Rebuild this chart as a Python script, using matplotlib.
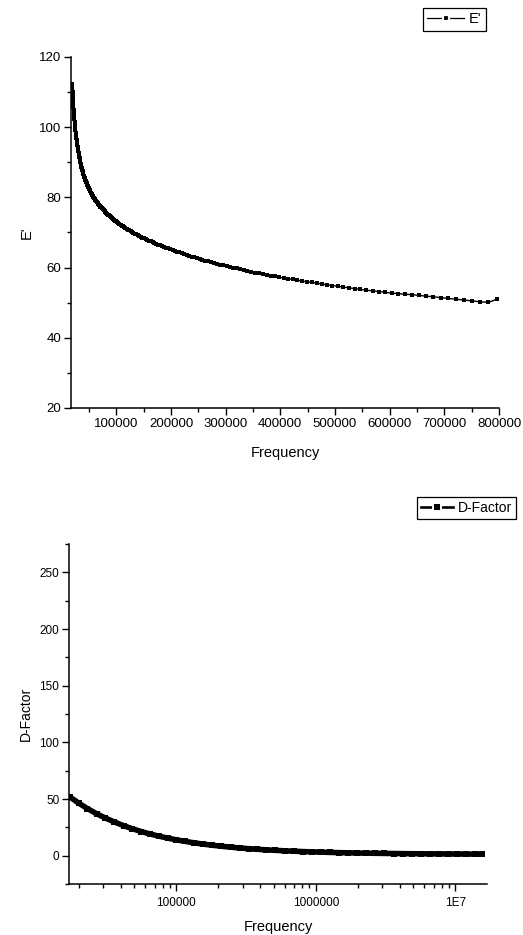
import matplotlib
matplotlib.use("Agg")
import matplotlib.pyplot as plt
from matplotlib.lines import Line2D
from matplotlib import ticker

plt.rcParams['font.family'] = ['Liberation Sans', 'DejaVu Sans']

# ---------------- data: E' vs frequency (top panel) ----------------
freq_e = [19240, 19625, 20017, 20418, 20826, 21243, 21667, 22101, 22543, 22994,
          23453, 23922, 24401, 24889, 25387, 25894, 26412, 26941, 27479, 28029,
          28590, 29161, 29745, 30340, 30946, 31565, 32197, 32841, 33497, 34167,
          34851, 35548, 36259, 36984, 37724, 38478, 39248, 40033, 40833, 41650,
          42483, 43333, 44200, 45084, 45985, 46905, 47843, 48800, 49776, 50771,
          51787, 52822, 53879, 54957, 56056, 57177, 58320, 59487, 60676, 61890,
          63128, 64390, 65678, 66992, 68332, 69698, 71092, 72514, 73964, 75444,
          76953, 78492, 80062, 81663, 83296, 84962, 86661, 88394, 90162, 91965,
          93805, 95681, 97594, 99546, 101537, 103568, 105639, 107752, 109907, 112105,
          114347, 116634, 118967, 121346, 123773, 126248, 128773, 131349, 133976, 136655,
          139388, 142176, 145020, 147920, 150878, 153896, 156974, 160113, 163315, 166582,
          169913, 173312, 176778, 180314, 183920, 187598, 191350, 195177, 199081, 203062,
          207124, 211266, 215491, 219801, 224197, 228681, 233255, 237920, 242678, 247532,
          252482, 257532, 262683, 267936, 273295, 278761, 284336, 290023, 295823, 301740,
          307774, 313930, 320208, 326612, 333145, 339808, 346604, 353536, 360607, 367819,
          375175, 382679, 390332, 398139, 406102, 414224, 422508, 430959, 439578, 448369,
          457337, 466483, 475813, 485329, 495036, 504936, 515035, 525336, 535842, 546559,
          557490, 568640, 580013, 591613, 603445, 615514, 627824, 640381, 653188, 666252,
          679577, 693168, 707032, 721172, 735596, 750308, 765314, 780620, 796232]
e_prime = [112.40, 111.22, 110.06, 108.96, 107.89, 106.87, 105.88, 104.93, 104.00, 103.11,
           102.25, 101.42, 100.61, 99.83, 99.07, 98.35, 97.64, 96.96, 96.29, 95.65,
           95.02, 94.42, 93.82, 93.25, 92.69, 92.15, 91.62, 91.11, 90.61, 90.12,
           89.64, 89.19, 88.73, 88.29, 87.85, 87.44, 87.02, 86.62, 86.22, 85.83,
           85.45, 85.08, 84.71, 84.36, 84.00, 83.66, 83.31, 82.98, 82.65, 82.33,
           82.00, 81.69, 81.38, 81.07, 80.77, 80.47, 80.17, 79.89, 79.59, 79.31,
           79.03, 78.75, 78.47, 78.21, 77.93, 77.67, 77.40, 77.14, 76.87, 76.62,
           76.36, 76.11, 75.85, 75.60, 75.35, 75.10, 74.85, 74.61, 74.36, 74.12,
           73.88, 73.64, 73.40, 73.16, 72.92, 72.69, 72.45, 72.22, 71.98, 71.75,
           71.52, 71.29, 71.06, 70.83, 70.60, 70.37, 70.14, 69.92, 69.69, 69.47,
           69.23, 69.01, 68.78, 68.56, 68.33, 68.11, 67.88, 67.67, 67.44, 67.22,
           66.99, 66.78, 66.55, 66.33, 66.11, 65.89, 65.67, 65.45, 65.23, 65.01,
           64.79, 64.57, 64.35, 64.13, 63.91, 63.53, 63.31, 63.10, 62.88, 62.67,
           62.45, 62.24, 62.02, 61.81, 61.59, 61.28, 61.06, 60.85, 60.63, 60.42,
           60.20, 59.99, 59.77, 59.56, 59.34, 59.08, 58.76, 58.55, 58.33, 58.12,
           57.90, 57.69, 57.47, 57.26, 57.04, 56.83, 56.61, 56.40, 56.18, 55.97,
           55.80, 55.54, 55.32, 55.11, 54.89, 54.68, 54.46, 54.25, 54.03, 53.82,
           53.55, 53.39, 53.17, 52.96, 52.74, 52.58, 52.41, 52.30, 52.08, 51.87,
           51.70, 51.44, 51.22, 51.01, 50.79, 50.53, 50.26, 50.10, 50.98]

# ---------------- data: D-Factor vs frequency (bottom panel) ----------------
freq_d = [17250, 20000, 23000, 27000, 31000, 36000, 42000, 48000, 56000, 65000,
          75000, 87000, 100000, 116000, 135000, 156000, 180000, 210000, 245000, 285000,
          330000, 380000, 440000, 510000, 600000, 700000, 810000, 940000, 1090000, 1270000,
          1470000, 1710000, 1990000, 2310000, 2680000, 3110000, 3610000, 4190000, 4870000,
          5650000, 6560000, 7620000, 8850000, 10270000, 11930000, 13850000, 15600000]
d_factor = [51.8, 46.3, 41.6, 36.8, 33.2, 29.7, 26.4, 23.9, 21.3, 19.1,
            17.2, 15.45, 13.97, 12.57, 11.29, 10.2, 9.24, 8.31, 7.50, 6.79,
            6.17, 5.64, 5.15, 4.71, 4.28, 3.92, 3.62, 3.34, 3.10, 2.87,
            2.68, 2.51, 2.35, 2.21, 2.09, 1.98, 1.89, 1.80, 1.72,
            1.65, 1.59, 1.54, 1.49, 1.45, 1.41, 1.37, 1.35]

top_xticks = [100000, 200000, 300000, 400000, 500000, 600000, 700000, 800000]
top_yticks = [20, 40, 60, 80, 100, 120]
bot_xticks = [1e5, 1e6, 1e7]
bot_xticklabels = ["100000", "1000000", "1E7"]
bot_yticks = [0, 50, 100, 150, 200, 250]

W, H = 523, 935
fig = plt.figure(figsize=(W / 100, H / 100), dpi=100)


def style_axes(ax):
    for s in ("top", "right"):
        ax.spines[s].set_visible(False)
    for s in ("left", "bottom"):
        ax.spines[s].set_linewidth(1.1)
    ax.tick_params(which="major", direction="out", length=5, width=1.0,
                   labelsize=9.5, pad=2, top=False, right=False)
    ax.tick_params(which="minor", direction="out", length=3, width=1.0,
                   top=False, right=False)


# ---------- top panel ----------
ax1 = fig.add_axes([71 / W, 1 - 408 / H, (499 - 71) / W, (408 - 57) / H])
ax1.plot(freq_e, e_prime, color="black", lw=1.0, marker="s", ms=3.1,
         mec="black", mfc="black", mew=0)
ax1.set_xlim(17200, 800000)
ax1.set_ylim(20, 120)
ax1.set_xticks(top_xticks)
ax1.xaxis.set_major_formatter(ticker.FuncFormatter(lambda v, p: f"{int(round(v))}"))
ax1.xaxis.set_minor_locator(ticker.MultipleLocator(50000))
ax1.set_yticks(top_yticks)
ax1.yaxis.set_minor_locator(ticker.MultipleLocator(10))
style_axes(ax1)
ax1.set_xlabel("Frequency", fontsize=10.5, labelpad=12)
ax1.set_ylabel("E'", fontsize=10.5, labelpad=4)
proxy1 = Line2D([], [], color="black", lw=0.9, marker="s", ms=5.0,
                mfc="black", mec="white", mew=1.6)
leg1 = ax1.legend([proxy1], ["E'"], loc="upper right",
                  bbox_to_anchor=(486 / W, 1 - 8 / H),
                  bbox_transform=fig.transFigure, fontsize=10.5, frameon=True,
                  fancybox=False, edgecolor="black", framealpha=1,
                  handlelength=2.5, handletextpad=0.35, borderpad=0.3,
                  borderaxespad=0)
leg1.get_frame().set_linewidth(0.9)

# ---------- bottom panel ----------
ax2 = fig.add_axes([69 / W, 1 - 884 / H, (487 - 69) / W, (884 - 544) / H])
ax2.plot(freq_d, d_factor, color="black", lw=4.0, solid_capstyle="butt",
         solid_joinstyle="round")
ax2.plot(freq_d, d_factor, ls="none", marker="s", ms=3.8, color="black", mew=0)
ax2.set_xscale("log")
ax2.set_xlim(17000, 1.69e7)
ax2.set_ylim(-25, 275)
ax2.set_xticks(bot_xticks)
ax2.set_xticklabels(bot_xticklabels)
ax2.xaxis.set_minor_locator(ticker.LogLocator(base=10, subs=range(2, 10)))
ax2.xaxis.set_minor_formatter(ticker.NullFormatter())
ax2.set_yticks(bot_yticks)
ax2.yaxis.set_minor_locator(ticker.MultipleLocator(25))
style_axes(ax2)
ax2.tick_params(axis="x", which="major", labelsize=8.5, pad=4)
ax2.tick_params(axis="y", which="major", labelsize=8.5)
ax2.set_xlabel("Frequency", fontsize=10.5, labelpad=8)
ax2.set_ylabel("D-Factor", fontsize=10, labelpad=5)
proxy2 = Line2D([], [], color="black", lw=1.9, marker="s", ms=5.2,
                mfc="black", mec="white", mew=1.4)
leg2 = ax2.legend([proxy2], ["D-Factor"], loc="upper right",
                  bbox_to_anchor=(516 / W, 1 - 497 / H),
                  bbox_transform=fig.transFigure, fontsize=10, frameon=True,
                  fancybox=False, edgecolor="black", framealpha=1,
                  handlelength=2.3, handletextpad=0.35, borderpad=0.3,
                  borderaxespad=0)
leg2.get_frame().set_linewidth(0.9)

fig.savefig("out.png", dpi=100)
